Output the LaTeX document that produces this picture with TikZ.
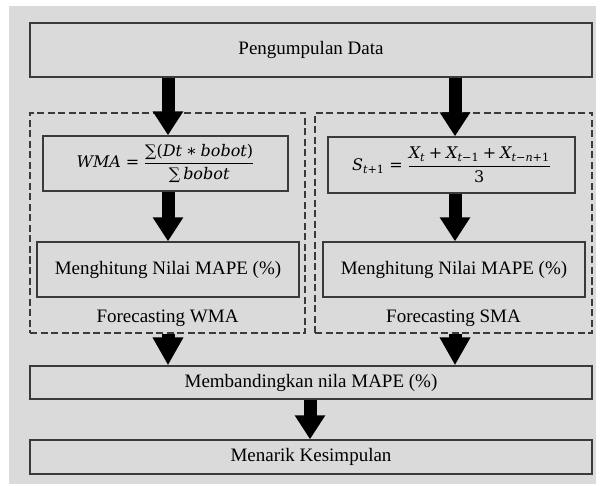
\documentclass[tikz,border=0pt]{standalone}
\usepackage{amsmath}
\usepackage{fontspec}
\setmainfont{Liberation Serif}
\newfontfamily\mathtxt{DejaVu Serif}
\usetikzlibrary{arrows.meta,calc}
\definecolor{bggray}{RGB}{218,218,218}
\definecolor{edge}{RGB}{58,58,58}
\newcommand\mi[1]{\text{\mathtxt\itshape #1}}
\newcommand\mr[1]{\text{\mathtxt #1}}
\tikzset{
  box/.style={draw=edge, line width=1.4pt, fill=bggray, inner sep=0pt, minimum width=#1, font=\fontsize{19}{23}\selectfont},
  box/.default=562pt,
  mbox/.style={box=#1, font=\fontsize{16}{20}\selectfont},
  group/.style={draw=edge, line width=1.2pt, dash pattern=on 7pt off 3.5pt, inner sep=0pt},
  lbl/.style={inner sep=0pt, font=\fontsize{19}{23}\selectfont},
  bigarrow/.style={line width=13pt, black, -{Triangle[width=29pt,length=24pt]}},
  bigarrowb/.style={line width=13pt, black, -{Triangle[width=29pt,length=28pt]}}
}
\begin{document}
\begin{tikzpicture}[x=1pt,y=-1pt]
\useasboundingbox (0,0) rectangle (602,486);
\fill[white] (0,0) rectangle (602,486);
\fill[bggray] (9,6) rectangle (596,484);

\coordinate (colL) at (168,0);
\coordinate (colR) at (455,0);
\coordinate (colC) at (310,0);

\node[box, minimum height=54pt] (top) at (311,50) {Pengumpulan Data};

\node[group, minimum width=275pt, minimum height=220pt] (dL) at (167.5,223) {};
\node[group, minimum width=277pt, minimum height=220pt] (dR) at (453.5,223) {};

\node[mbox=245pt, minimum height=55pt] (wma) at (165.5,163.5)
  {$\displaystyle \mi{WMA}\mathrel{\mr{=}}\frac{\mr{∑(}\mi{Dt}\mathbin{\mr{∗}}\mi{bobot}\mr{)}}{\mr{∑}\,\mi{bobot}}$};
\node[mbox=247pt, minimum height=56pt] (sma) at (451.5,165)
  {$\displaystyle \mi{S}_{\mi{t}\mr{+1}}\mathrel{\mr{=}}\frac{\mi{X}_{\mi{t}}\mathbin{\mr{+}}\mi{X}_{\mi{t}\mr{−1}}\mathbin{\mr{+}}\mi{X}_{\mi{t}\mr{−}\mi{n}\mr{+1}}}{\mr{3}}$};

\node[box=262pt, minimum height=55pt] (mL) at (168,269.5) {Menghitung Nilai MAPE (\%)};
\node[box=262pt, minimum height=55pt] (mR) at (454,269.5) {Menghitung Nilai MAPE (\%)};

\node[lbl] (fL) at (167.5,318) {Forecasting WMA};
\node[lbl] (fR) at (453.5,318) {Forecasting SMA};

\node[box, minimum height=33pt] (cmp) at (311,382.5) {Membandingkan nila MAPE (\%)};
\node[box, minimum height=34pt] (fin) at (311,457) {Menarik Kesimpulan};

\draw[bigarrow] (top.south -| colL) -- (wma.north -| colL);
\draw[bigarrow] (top.south -| colR) -- (sma.north -| colR);
\draw[bigarrow] (wma.south -| colL) -- (mL.north -| colL);
\draw[bigarrow] (sma.south -| colR) -- (mR.north -| colR);
\draw[bigarrowb] (dL.south -| colL) -- (cmp.north -| colL);
\draw[bigarrowb] (dR.south -| colR) -- (cmp.north -| colR);
\draw[bigarrow] (cmp.south -| colC) -- (fin.north -| colC);
\end{tikzpicture}
\end{document}
